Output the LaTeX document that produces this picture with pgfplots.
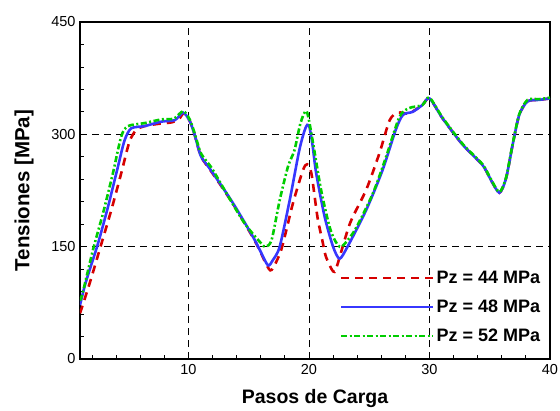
\documentclass[border=0pt]{standalone}
\usepackage{fontspec}
\setmainfont{Liberation Sans}
\usepackage{pgfplots}
\pgfplotsset{compat=1.18}
\definecolor{cred}{RGB}{214,0,0}
\definecolor{cblue}{RGB}{55,55,255}
\definecolor{cgreen}{RGB}{0,205,0}
\begin{document}
\begin{tikzpicture}
\begin{axis}[
  name=ax,
  scale only axis, width=470pt, height=337pt,
  xmin=1, xmax=40, ymin=0, ymax=450,
  xtick={10,20,30,40}, ytick={0,150,300,450},
  minor xtick={2,4,...,38}, minor ytick={30,60,...,420},
  xtick pos=bottom, ytick pos=left,
  tick align=inside, major tick length=0pt, minor tick length=4.5pt,
  tick style={black, line width=0.8pt},
  axis line style={line width=2pt},
  grid=major, grid style={dashed, black, line width=0.8pt, dash pattern=on 7pt off 5pt},
  /pgf/number format/assume math mode=true,
  tick label style={font=\fontsize{14.5}{16}\selectfont},
  xticklabel style={yshift=-2pt},
  yticklabel style={xshift=-1pt},
  xlabel={Pasos de Carga},
  ylabel={Tensiones [MPa]},
  every axis x label/.style={at={(rel axis cs:0.5,0)}, yshift=-39pt, anchor=center,
    font=\bfseries\fontsize{19.5}{22}\selectfont},
  every axis y label/.style={at={(rel axis cs:0,0.5)}, xshift=-56pt, rotate=90, anchor=center,
    font=\bfseries\fontsize{20.5}{22}\selectfont},
  legend style={draw=none, fill=none, at={(0.99,0.035)}, anchor=south east,
    font=\bfseries\fontsize{18}{20}\selectfont, row sep=11pt},
  legend cell align=left,
  legend image code/.code={\draw[#1] (0pt,0pt) -- (84pt,0pt); \path (0pt,0pt) -- (92pt,0pt);},
  every axis plot/.append style={smooth, tension=0.45, line width=2.6pt},
]
\addplot[cred, dash pattern=on 8pt off 6pt] coordinates {
(1,61) (1.8,101) (2.63,146) (3.6,199) (4.42,248) (5.1,290) (5.67,306)
(6.36,311) (7.5,314) (8.6,316) (9.2,320) (9.6,328) (10.1,318) (10.5,300)
(11.0,272) (11.5,259) (12.04,247) (13.7,207) (15.36,162) (16.0,142)
(16.5,125) (16.9,119) (17.7,146) (18.67,208) (19.5,252) (19.85,260)
(20.2,248) (20.7,190) (21.1,159) (21.4,137) (22.0,117) (22.3,123)
(23.4,181) (24.75,226) (25.85,275) (26.7,319) (27.4,329) (28.3,328)
(29.4,339) (30.0,348) (31.1,321) (32.76,286) (34.4,259) (35.1,239)
(35.8,222) (36.35,241) (36.9,286) (37.45,326) (38.14,344) (39.1,346) (40,348)
};
\addplot[cblue] coordinates {
(1,72) (1.4,98) (1.8,119) (2.49,154) (3.32,203) (4.15,257) (4.7,292)
(5.25,308) (6.36,311) (7.77,317) (8.87,319) (9.56,329) (10.1,318)
(10.5,300) (11.0,272) (11.5,260) (12.04,248) (13.7,208) (15.36,163)
(16.0,143) (16.6,125) (17.0,132) (17.57,150) (18.4,212) (19.2,279)
(19.7,308) (20.0,312) (20.3,285) (20.6,248) (21.3,190) (22.0,150)
(22.54,134) (23.2,150) (24.75,199) (26.1,252) (27.2,306) (27.8,326)
(28.6,330) (29.4,339) (30.0,348) (31.1,321) (32.76,286) (34.4,259)
(35.1,239) (35.8,222) (36.35,241) (36.9,286) (37.45,326) (38.14,344)
(39.1,346) (40,348)
};
\addplot[cgreen, dash pattern=on 6pt off 2.5pt on 2pt off 2.5pt] coordinates {
(1,78) (1.25,90) (2.08,146) (2.9,194) (3.73,248) (4.42,297) (4.98,311)
(6.36,315) (7.77,320) (8.8,321) (9.56,331) (10.1,320) (10.5,302)
(11.0,276) (11.5,264) (12.04,252) (14.5,185) (16.0,155) (16.4,150)
(16.9,159) (17.57,212) (18.26,257) (18.8,279) (19.3,315) (19.8,331)
(20.3,292) (21.0,226) (21.7,177) (22.2,157) (22.7,150) (23.8,172)
(25.3,221) (26.4,270) (27.5,323) (28.3,335) (29.4,339) (30.0,349)
(31.1,322) (32.76,287) (34.4,260) (35.1,240) (35.8,223) (36.35,242)
(36.9,287) (37.45,327) (38.14,346) (39.1,347) (40,349)
};
\legend{Pz = 44 MPa, Pz = 48 MPa, Pz = 52 MPa}
\end{axis}
\pgfresetboundingbox
\path[use as bounding box] ([xshift=-80pt,yshift=-51pt]ax.south west)
  rectangle ([xshift=10pt,yshift=22pt]ax.north east);
\end{tikzpicture}
\end{document}
